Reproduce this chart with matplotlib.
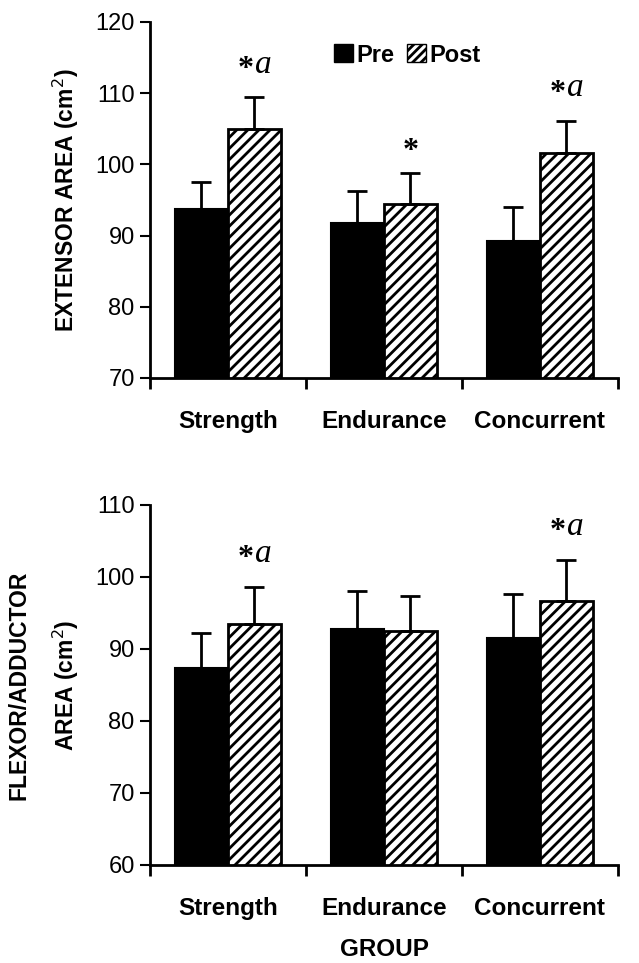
import numpy as np
import matplotlib
matplotlib.use('Agg')
from matplotlib import pyplot as plt
from matplotlib.patches import Patch

# данные
groups = ['Strength', 'Endurance', 'Concurrent']
ext_pre = [93.7, 91.7, 89.2]
ext_pre_err = [3.8, 4.5, 4.8]
ext_post = [105.0, 94.5, 101.6]
ext_post_err = [4.4, 4.3, 4.5]
ext_marks = ['*a', '*', '*a']

flex_pre = [87.3, 92.8, 91.5]
flex_pre_err = [4.9, 5.3, 6.1]
flex_post = [93.5, 92.5, 96.6]
flex_post_err = [5.1, 4.8, 5.8]
flex_marks = ['*a', '', '*a']

plt.rcParams['font.family'] = ['Liberation Sans', 'DejaVu Sans']
plt.rcParams['hatch.linewidth'] = 2.0
narrow = ['Liberation Sans Narrow', 'Liberation Sans', 'DejaVu Sans']

fig = plt.figure(figsize=(6.39, 9.63), dpi=100)
ax1 = fig.add_axes([0.2347, 0.6075, 0.7323, 0.3697])
ax2 = fig.add_axes([0.2347, 0.1018, 0.7323, 0.3738])

w = 0.34
x = np.arange(len(groups))


def draw(ax, pre, pre_err, post, post_err, marks, ylim, yticks):
    ax.bar(x - w / 2, pre, w, color='black', edgecolor='black', linewidth=1.5)
    ax.bar(x + w / 2, post, w, color='white', edgecolor='black', hatch='///', linewidth=2)
    ax.errorbar(x - w / 2, pre, yerr=[np.zeros(3), pre_err], fmt='none',
                ecolor='black', elinewidth=2, capsize=7, capthick=2)
    ax.errorbar(x + w / 2, post, yerr=[np.zeros(3), post_err], fmt='none',
                ecolor='black', elinewidth=2, capsize=7, capthick=2)
    # значки значимости
    for i, m in enumerate(marks):
        if not m:
            continue
        top = post[i] + post_err[i]
        if m == '*a':
            ax.text(x[i] + w / 2 - 0.055, top + 3.9, '*', ha='center', va='center',
                    fontsize=23, family='Liberation Serif', fontweight='bold')
            ax.text(x[i] + w / 2 + 0.06, top + 4.6, 'a', ha='center', va='center',
                    fontsize=24, family='Liberation Serif', style='italic')
        else:
            ax.text(x[i] + w / 2, top + 3.0, '*', ha='center', va='center',
                    fontsize=23, family='Liberation Serif', fontweight='bold')
    ax.set_xlim(-0.5, 2.5)
    ax.set_ylim(*ylim)
    ax.set_yticks(yticks)
    ax.set_xticks([-0.5, 0.5, 1.5, 2.5])
    ax.set_xticklabels([])
    ax.set_xticks(x, minor=True)
    ax.set_xticklabels(groups, minor=True, fontsize=17.5, fontweight='bold')
    ax.tick_params(axis='x', which='minor', length=0, pad=23)
    ax.tick_params(axis='x', which='major', length=8, width=2, direction='out')
    ax.tick_params(axis='y', length=7, width=1.5, labelsize=17, pad=4)
    for s in ['top', 'right']:
        ax.spines[s].set_visible(False)
    for s in ['left', 'bottom']:
        ax.spines[s].set_linewidth(2)


draw(ax1, ext_pre, ext_pre_err, ext_post, ext_post_err, ext_marks,
     (70, 120), [70, 80, 90, 100, 110, 120])
draw(ax2, flex_pre, flex_pre_err, flex_post, flex_post_err, flex_marks,
     (60, 110), [60, 70, 80, 90, 100, 110])

ax1.set_ylabel('EXTENSOR AREA (cm$^{2}$)', fontsize=16.5, fontweight='bold',
               family=narrow, labelpad=10)
ax2.set_ylabel('FLEXOR/ADDUCTOR\nAREA (cm$^{2}$)', fontsize=16.5, fontweight='bold',
               family=narrow, labelpad=10, linespacing=1.9)
ax2.set_xlabel('GROUP', fontsize=17.5, fontweight='bold', labelpad=13)

handles = [Patch(facecolor='black', edgecolor='black'),
           Patch(facecolor='white', edgecolor='black', hatch='////')]
ax1.legend(handles, ['Pre', 'Post'], loc='center', bbox_to_anchor=(0.55, 0.907),
           ncol=2, frameon=False, handlelength=0.8, handleheight=0.8,
           handletextpad=0.15, columnspacing=0.5, borderpad=0,
           prop={'size': 17, 'weight': 'bold'})

fig.savefig('out.png', dpi=100)
